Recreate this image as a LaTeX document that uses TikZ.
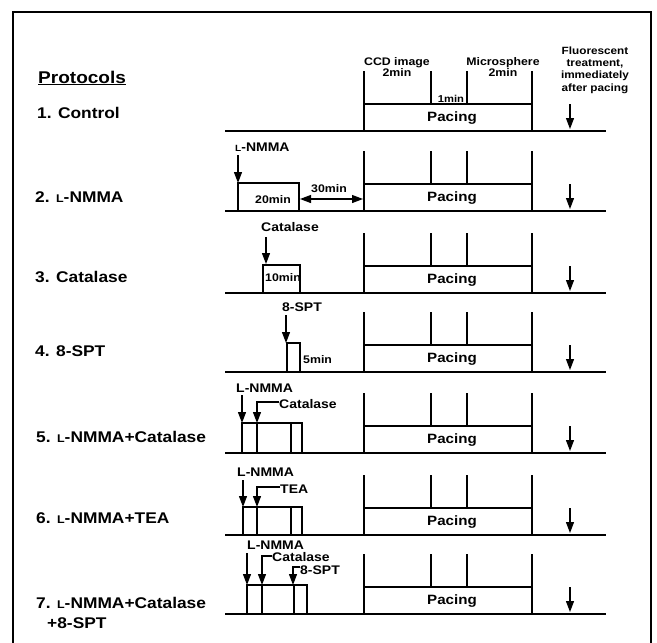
\documentclass[tikz,border=0pt]{standalone}
\usepackage{fontspec}
\usepackage{graphicx}
\setmainfont{Liberation Sans}[FakeStretch=1.12]
\usetikzlibrary{arrows.meta}

% small-cap L of L-NMMA
\newcommand{\sL}{\scalebox{0.72}{L}}

\begin{document}
\begin{tikzpicture}[x=1pt,y=-1pt,
  every node/.style={inner sep=0pt},
  lbl/.style={anchor=west, font=\bfseries\fontsize{15.5}{15.5}\selectfont},
  ann/.style={font=\bfseries\fontsize{12.5}{13}\selectfont},
  dur/.style={font=\bfseries\fontsize{11}{11}\selectfont},
  hdr/.style={align=center, font=\bfseries\fontsize{11}{11.5}\selectfont},
  box/.style={line width=1.3pt},
  base/.style={line width=1.8pt},
  drug/.style={-{Triangle[length=11pt,width=8pt]}, line width=1.2pt},
]
  \useasboundingbox (0,0) rectangle (657,643);

  % Frame
  \draw[line width=1.6pt] (13,643) -- (13,12) -- (651,12) -- (651,643);

  % Protocol names
  \node[lbl, font=\bfseries\fontsize{17}{17}\selectfont] (title) at (38,78) {\underline{Protocols}};
  \node[lbl] (p1) at (37,113) {1. Control};
  \node[lbl] (p2) at (35,197) {2. \sL-NMMA};
  \node[lbl] (p3) at (35,277) {3. Catalase};
  \node[lbl] (p4) at (35,351) {4. 8-SPT};
  \node[lbl] (p5) at (36,437) {5. \sL-NMMA+Catalase};
  \node[lbl] (p6) at (36,518) {6. \sL-NMMA+TEA};
  \node[lbl] (p7) at (36,603) {7. \sL-NMMA+Catalase};
  \node[lbl] (p7b) at (47,623) {+8-SPT};

  % Column headers
  \node[hdr] (ccd) at (397,67) {CCD image\\2min};
  \node[hdr] (micro) at (503,67) {Microsphere\\2min};
  \node[dur, font=\bfseries\fontsize{10}{10}\selectfont] (gap) at (451,99) {1min};
  \node[hdr, font=\bfseries\fontsize{10.5}{12.3}\selectfont] (fluo) at (595,70)
    {Fluorescent\\treatment,\\immediately\\after pacing};

  % Pacing period, image ticks and fluorescent treatment for every protocol
  \foreach \r/\y in {1/131,2/211,3/293,4/372,5/453,6/535,7/614} {
    \draw[base] (225,\y) -- (606,\y);
    \draw[box] (364,\y) rectangle (532,\y-27);
    \node[font=\bfseries\fontsize{13.5}{13.5}\selectfont] (pace\r) at (452,\y-12.5) {Pacing};
    \foreach \t in {364,431,467,532}
      \draw[box] (\t,\y-27) -- (\t,\y-60);
    \draw[drug] (570,\y-27) -- (570,\y-2);
  }

  % 2. L-NMMA
  \node[ann, anchor=west] (nmma2) at (235,147) {\sL-NMMA};
  \draw[drug] (238,155) -- (238,183);
  \draw[box] (238,211) |- (299,183) -- (299,211);
  \node[dur] (t20) at (273,200) {20min};
  \draw[{Triangle[length=11pt,width=8pt]}-{Triangle[length=11pt,width=8pt]}, line width=1.2pt]
    (300,199) -- (363,199);
  \node[dur] (t30) at (329,189) {30min};

  % 3. Catalase
  \node[ann] (cat3) at (290,227) {Catalase};
  \draw[drug] (266,237) -- (266,264);
  \draw[box] (263,293) |- (300,265) -- (300,293);
  \node[dur] (t10) at (283,278) {10min};

  % 4. 8-SPT
  \node[ann] (spt4) at (302,307) {8-SPT};
  \draw[drug] (286,315) -- (286,343);
  \draw[box] (287,372) |- (300,343) -- (300,372);
  \node[dur, anchor=west] (t5) at (303,360) {5min};

  % 5. L-NMMA + Catalase
  \node[ann, anchor=west] (nmma5) at (236,388) {L-NMMA};
  \node[ann, anchor=west] (cat5) at (279,404) {Catalase};
  \draw[drug] (242,395) -- (242,423);
  \draw[drug] ([yshift=2pt]cat5.west) -| (257,423);
  \draw[box] (242,453) |- (302,423) -- (302,453);
  \draw[box] (257,423) -- (257,453);
  \draw[box] (291,423) -- (291,453);

  % 6. L-NMMA + TEA
  \node[ann, anchor=west] (nmma6) at (237,472) {L-NMMA};
  \node[ann, anchor=west] (tea6) at (280,489) {TEA};
  \draw[drug] (243,480) -- (243,507);
  \draw[drug] ([yshift=2pt]tea6.west) -| (257,507);
  \draw[box] (243,535) |- (302,507) -- (302,535);
  \draw[box] (257,507) -- (257,535);
  \draw[box] (291,507) -- (291,535);

  % 7. L-NMMA + Catalase + 8-SPT
  \node[ann, anchor=west] (nmma7) at (247,545) {L-NMMA};
  \node[ann, anchor=west] (cat7) at (272,557) {Catalase};
  \node[ann, anchor=west] (spt7) at (300,570) {8-SPT};
  \draw[drug] (247,553) -- (247,585);
  \draw[drug] ([yshift=1pt]cat7.west) -| (262,585);
  \draw[drug] ([yshift=3pt]spt7.west) -| (293,585);
  \draw[box] (247,614) |- (307,585) -- (307,614);
  \draw[box] (262,585) -- (262,614);
  \draw[box] (294,585) -- (294,614);
\end{tikzpicture}
\end{document}
